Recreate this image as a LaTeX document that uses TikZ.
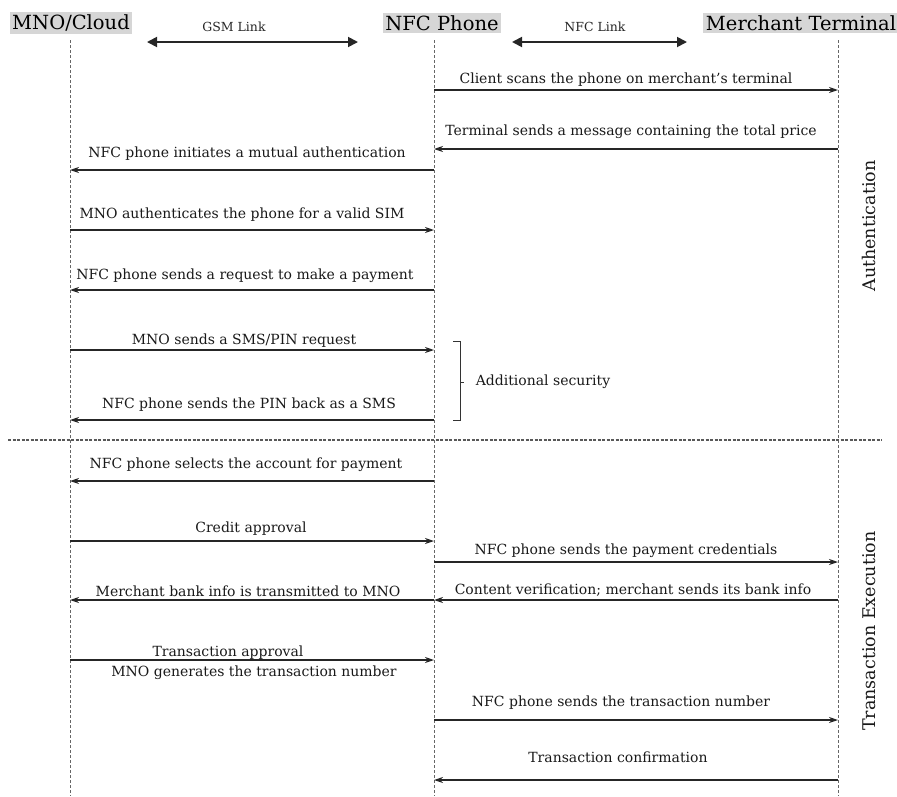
\documentclass[tikz,border=0pt]{standalone}
\usepackage{fontspec}
\setmainfont{DejaVu Serif}
\usetikzlibrary{arrows.meta}
\begin{document}
\begin{tikzpicture}[x=1pt,y=-1pt,
  hdr/.style={fill=black!16, inner sep=2.5pt, font=\fontsize{19.5}{21}\selectfont},
  lifeline/.style={draw=black!60, dash pattern=on 3pt off 2pt, line width=1pt},
  msgarrow/.style={draw=black!85, line width=1.3pt, -{Stealth[length=9pt,width=6pt]}},
  linkarrow/.style={draw=black!85, line width=1.8pt, {Triangle[length=10pt,width=10pt]}-{Triangle[length=10pt,width=10pt]}},
  lbl/.style={font=\fontsize{14}{16}\selectfont, inner sep=0pt, text=black!90},
  linklbl/.style={font=\fontsize{12.5}{14}\selectfont, inner sep=0pt, text=black!85},
  side/.style={font=\fontsize{17.5}{19}\selectfont, inner sep=0pt, rotate=90, text=black!90},
  sep/.style={draw=black!65, dash pattern=on 3pt off 1.5pt, line width=1.2pt},
  bracket/.style={draw=black!80, line width=1pt}
]
\useasboundingbox (0,0) rectangle (897,796);

% headers
\node[hdr] (mnoH) at (71,23) {MNO/Cloud};
\node[hdr] (nfcH) at (442,23) {NFC Phone};
\node[hdr] (merH) at (801,23) {Merchant Terminal};

% link arrows
\coordinate (g1) at (147,42); \coordinate (g2) at (358,42);
\coordinate (n1) at (512,42); \coordinate (n2) at (687,42);
\draw[linkarrow] (g1) -- (g2);
\draw[linkarrow] (n1) -- (n2);
\node[linklbl] (gsm) at (234,27) {GSM Link};
\node[linklbl] (nfcl) at (595,27) {NFC Link};

% lifelines
\coordinate (mT) at (70,40); \coordinate (mB) at (70,796);
\coordinate (pT) at (434,40); \coordinate (pB) at (434,796);
\coordinate (tT) at (838,40); \coordinate (tB) at (838,796);
\draw[lifeline] (mT) -- (mB);
\draw[lifeline] (pT) -- (pB);
\draw[lifeline] (tT) -- (tB);

% lifeline points
\foreach \n/\y in {1/90,2/149,3/170,4/230,5/290,6/350,7/420,8/481,9/541,10/562,11/600,12/600,13/660,14/720,15/780}{
  \coordinate (m\n) at (70,\y);
  \coordinate (p\n) at (434,\y);
  \coordinate (t\n) at (838,\y);
}

% messages
\draw[msgarrow] (p1) -- (t1);
\node[lbl] (l1) at (626,80) {Client scans the phone on merchant’s terminal};
\draw[msgarrow] (t2) -- (p2);
\node[lbl] (l2) at (631,132) {Terminal sends a message containing the total price};
\draw[msgarrow] (p3) -- (m3);
\node[lbl] (l3) at (247,154) {NFC phone initiates a mutual authentication};
\draw[msgarrow] (m4) -- (p4);
\node[lbl] (l4) at (242,215) {MNO authenticates the phone for a valid SIM};
\draw[msgarrow] (p5) -- (m5);
\node[lbl] (l5) at (245,276) {NFC phone sends a request to make a payment};
\draw[msgarrow] (m6) -- (p6);
\node[lbl] (l6) at (244,341) {MNO sends a SMS/PIN request};
\draw[msgarrow] (p7) -- (m7);
\node[lbl] (l7) at (249,405) {NFC phone sends the PIN back as a SMS};

% additional security bracket
\coordinate (b1) at (453,341); \coordinate (b2) at (460,341);
\coordinate (b3) at (460,420); \coordinate (b4) at (453,420);
\coordinate (b5) at (460,382); \coordinate (b6) at (464,382);
\draw[bracket] (b1) -- (b2) -- (b3) -- (b4);
\draw[bracket] (b5) -- (b6);
\node[lbl] (sec) at (543,382) {Additional security};

% separator
\coordinate (s1) at (8,440); \coordinate (s2) at (882,440);
\draw[sep] (s1) -- (s2);

\draw[msgarrow] (p8) -- (m8);
\node[lbl] (l8) at (246,465) {NFC phone selects the account for payment};
\draw[msgarrow] (m9) -- (p9);
\node[lbl] (l9) at (251,529) {Credit approval};
\draw[msgarrow] (p10) -- (t10);
\node[lbl] (l10) at (626,551) {NFC phone sends the payment credentials};
\draw[msgarrow] (t11) -- (p11);
\node[lbl] (l11) at (633,590) {Content verification; merchant sends its bank info};
\draw[msgarrow] (p12) -- (m12);
\node[lbl] (l12) at (248,591) {Merchant bank info is transmitted to MNO};
\draw[msgarrow] (m13) -- (p13);
\node[lbl] (l13) at (228,653) {Transaction approval};
\node[lbl] (l13b) at (254,673) {MNO generates the transaction number};
\draw[msgarrow] (p14) -- (t14);
\node[lbl] (l14) at (621,703) {NFC phone sends the transaction number};
\draw[msgarrow] (t15) -- (p15);
\node[lbl] (l15) at (618,757) {Transaction confirmation};

% side labels
\node[side] (auth) at (869,226) {Authentication};
\node[side] (exec) at (869,631) {Transaction Execution};
\end{tikzpicture}
\end{document}
